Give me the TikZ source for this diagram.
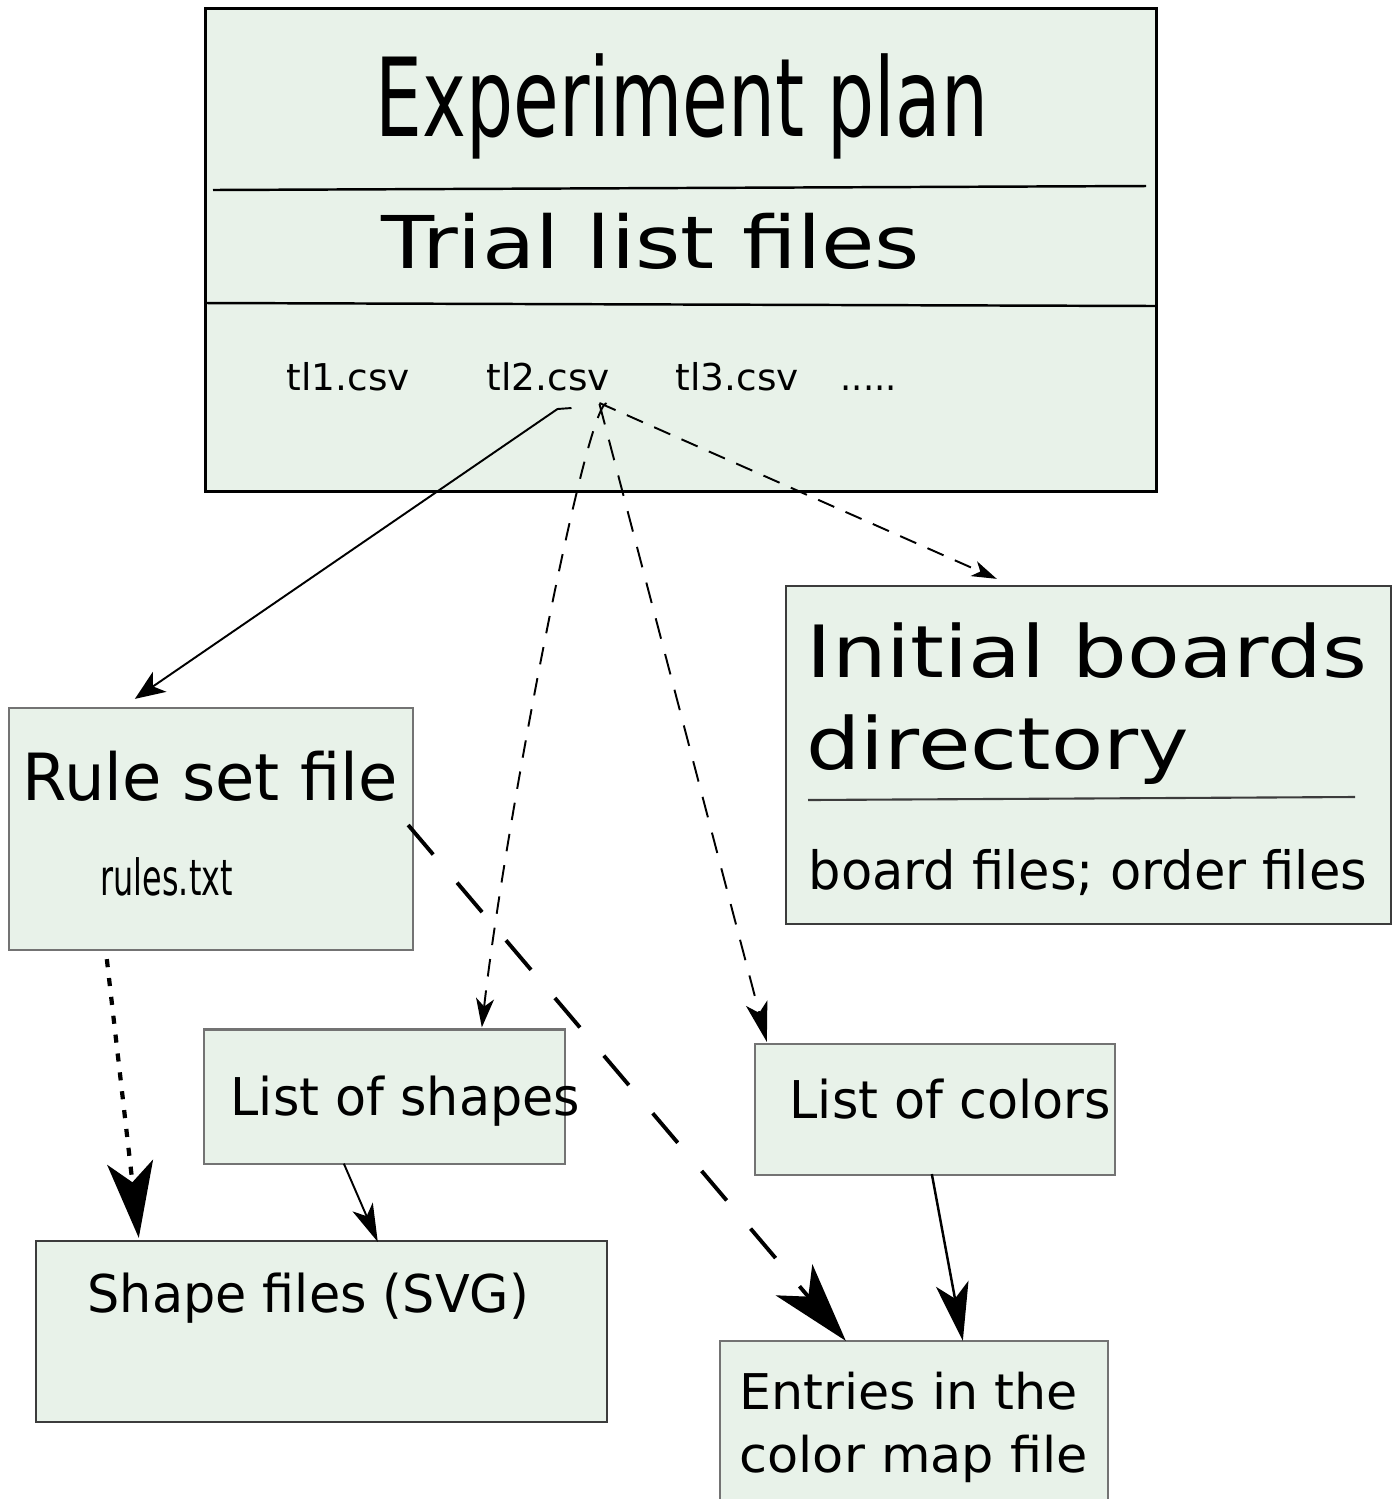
\documentclass[tikz,border=0pt]{standalone}
\usepackage{fontspec}
\setmainfont{DejaVu Sans}
\usetikzlibrary{arrows.meta,calc}

\definecolor{boxfill}{RGB}{232,242,233}
\definecolor{edgegray}{RGB}{115,115,115}
\definecolor{edgedark}{RGB}{60,60,60}

% text set to a given width, keeping its height
\newcommand{\fitw}[3]{\resizebox{#1}{\height}{\fontsize{#2}{#2}\selectfont #3}}

\tikzset{
  box/.style={rectangle, draw=edgegray, line width=0.6pt, fill=boxfill, inner sep=0pt},
  txt/.style={anchor=base west, inner sep=0pt, text=black},
  thinlink/.style={line width=0.55pt},
}

\begin{document}
\begin{tikzpicture}[x=0.01cm,y=-0.01cm]
        \useasboundingbox (0,0) rectangle (1392,1499);

        % Boxes
        \node[box, draw=black, line width=0.9pt, minimum width=9.5cm, minimum height=4.82cm] (plan) at (681,250) {};
        \node[box, minimum width=4.04cm, minimum height=2.42cm] (rules) at (211,829) {};
        \node[box, draw=edgedark, minimum width=6.05cm, minimum height=3.38cm] (boards) at (1088.5,755) {};
        \node[box, minimum width=3.61cm, minimum height=1.34cm] (shapes) at (384.5,1096.5) {};
        \node[box, minimum width=3.60cm, minimum height=1.31cm] (colors) at (935,1109.5) {};
        \node[box, draw=edgedark, minimum width=5.71cm, minimum height=1.81cm] (svgfiles) at (321.5,1331.5) {};
        \node[box, minimum width=3.88cm, minimum height=2.19cm] (cmap) at (914,1450.5) {};

        % Dividers
        \draw[line width=0.7pt] (213,190) -- (1146,186);
        \draw[line width=0.7pt] (206,303) -- (1156,306);
        \draw[line width=0.6pt, edgedark] (808,800) -- (1355,797);

        % Texts
        \node[txt] (plantitle) at (375,136) {\fitw{6.12cm}{31pt}{Experiment plan}};
        \node[txt] (tlhead) at (381,268) {\fitw{5.38cm}{20.7pt}{Trial list files}};
        \node[txt] (tlone) at (286,390) {\fitw{1.23cm}{10.5pt}{tl1.csv}};
        \node[txt] (tltwo) at (486,390) {\fitw{1.23cm}{10.5pt}{tl2.csv}};
        \node[txt] (tlthree) at (675,390) {\fitw{1.23cm}{10.5pt}{tl3.csv}};
        \node[txt] (tlmore) at (840,390) {\fitw{0.56cm}{10.5pt}{.....}};
        \node[txt] (boardsA) at (806,677) {\fitw{5.60cm}{20.5pt}{Initial boards}};
        \node[txt] (boardsB) at (806,769) {\fitw{3.82cm}{20.5pt}{directory}};
        \node[txt] (boardsC) at (808,889) {\fitw{5.58cm}{15pt}{board files; order files}};
        \node[txt] (rulesA) at (22,800) {\fitw{3.75cm}{18.5pt}{Rule set file}};
        \node[txt] (rulesB) at (100,895) {\fitw{1.32cm}{14.2pt}{rules.txt}};
        \node[txt] (shapesA) at (230,1115) {\fitw{3.49cm}{14.8pt}{List of shapes}};
        \node[txt] (colorsA) at (789,1118) {\fitw{3.21cm}{14.8pt}{List of colors}};
        \node[txt] (svgA) at (87,1312) {\fitw{4.41cm}{14.8pt}{Shape files (SVG)}};
        \node[txt] (cmapA) at (739,1409) {\fitw{3.38cm}{14pt}{Entries in the}};
        \node[txt] (cmapB) at (739,1472) {\fitw{3.48cm}{14pt}{color map file}};

        % Links from tl2.csv
        \draw[thinlink, -{Stealth[length=0.3cm,width=0.24cm,inset=0.08cm]}]
          ($(tltwo.base east)+(-39,18)$) -- ++(-14,1) -- ($(rules.north west)+(127,-8)$);
        \draw[thinlink, dash pattern=on 5pt off 4pt, -{Stealth[length=0.29cm,width=0.18cm,inset=0.08cm]}]
          ($(tltwo.base east)+(-4,13)$) .. controls ++(-22,6) and ($(shapes.north west)+(300,-190)$) .. ($(shapes.north west)+(279,-1)$);
        \draw[thinlink, dash pattern=on 6pt off 4.5pt, -{Stealth[length=0.4cm,width=0.22cm,inset=0.1cm]}]
          ($(tltwo.base east)+(-11,14)$) -- ($(colors.north west)+(13,-1)$);
        \draw[thinlink, dash pattern=on 5pt off 3.5pt, -{Stealth[length=0.25cm,width=0.16cm,inset=0.07cm]}]
          ($(tltwo.base east)+(-11,13)$) -- ($(boards.north west)+(212,-6)$);

        % Links to the lower boxes
        \draw[line width=1.1pt, dash pattern=on 11pt off 10.5pt, -{Stealth[length=0.8cm,width=0.48cm,inset=0.22cm]}]
          ($(rules.east)+(-6,-4)$) -- ($(cmap.north west)+(127,1)$);
        \draw[line width=1.2pt, dash pattern=on 2.3pt off 3.1pt, -{Stealth[length=0.76cm,width=0.46cm,inset=0.2cm]}]
          ($(rules.south west)+(99,8)$) -- ($(svgfiles.north west)+(104,-2)$);
        \draw[thinlink, -{Stealth[length=0.38cm,width=0.22cm,inset=0.1cm]}]
          ($(shapes.south west)+(141,-1)$) -- ($(svgfiles.north west)+(343,2)$);
        \draw[line width=0.7pt, -{Stealth[length=0.58cm,width=0.33cm,inset=0.15cm]}]
          ($(colors.south west)+(178,-2)$) -- ($(cmap.north west)+(244,1)$);
\end{tikzpicture}
\end{document}
